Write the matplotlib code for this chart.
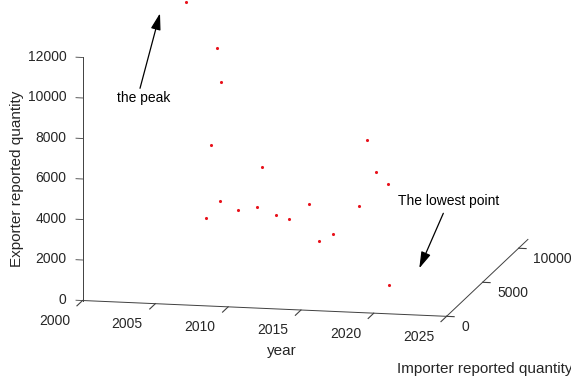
import matplotlib
matplotlib.use("Agg")
import matplotlib.pyplot as plt

years = [2002, 2003, 2004, 2005, 2006, 2007, 2008, 2009, 2010, 2011,
         2012, 2013, 2014, 2015, 2016, 2017, 2018, 2019, 2020]
importer = [10290, 12570, 11180, 7690, 5010, 4890, 5450, 6760, 4000, 4570,
            4360, 5190, 4560, 4440, 7180, 3960, 4380, 4020, 2140]
exporter = [11340, 8330, 7140, 5250, 2580, 3480, 2880, 4610, 3580, 3040,
            2940, 3430, 1830, 2280, 5990, 3880, 5450, 4990, 690]

x_lim = (2000, 2025)
y_lim = (0, 11300)
z_lim = (0, 12000)
x_ticks = [2000, 2005, 2010, 2015, 2020, 2025]
y_ticks = [0, 5000, 10000]
z_ticks = [0, 2000, 4000, 6000, 8000, 10000, 12000]

AX_COLOR = "#404040"
TXT_COLOR = "#262626"

plt.rcParams["font.family"] = ["Liberation Sans", "DejaVu Sans"]

fig = plt.figure(figsize=(5.71, 3.78), dpi=100)
ax = fig.add_axes([0.1946, 0.0938, 0.662, 1.0], projection="3d")
ax.set_proj_type("ortho")
ax.view_init(elev=11.7, azim=-77.9)
ax.set_box_aspect((372.3, 388.0, 248.2), zoom=1.521)

ax.scatter(years, importer, exporter, s=5, c="#e8121c", linewidths=0,
           depthshade=False)

# MATLAB keeps the z axis on the front-left edge; mplot3d can't, so draw it
ax.plot([x_lim[0]] * 2, [y_lim[0]] * 2, z_lim, color=AX_COLOR, lw=0.7,
        clip_on=False)
for t in z_ticks:
    ax.plot([x_lim[0], x_lim[0] - 0.45], [y_lim[0]] * 2, [t, t],
            color=AX_COLOR, lw=0.6, clip_on=False)

ax.set_xlim(*x_lim)
ax.set_ylim(*y_lim)
ax.set_zlim(*z_lim)
ax.set_xticks(x_ticks)
ax.set_yticks(y_ticks)
ax.set_zticks(z_ticks)
ax.set_xticklabels([])
ax.set_yticklabels([])
ax.set_zticklabels([])
ax.zaxis.set_ticks_position("none")
ax.zaxis.line.set_visible(False)
ax.grid(False)
for axis, f in ((ax.xaxis, 0.86), (ax.yaxis, 0.26), (ax.zaxis, 0.0)):
    axis.pane.fill = False
    axis.pane.set_edgecolor("none")
    axis.line.set_color(AX_COLOR)
    axis.line.set_linewidth(0.7)
    axis._axinfo["tick"]["inward_factor"] = f
    axis._axinfo["tick"]["outward_factor"] = 0.0
ax.tick_params(colors=AX_COLOR, width=0.6)

# tick labels placed the way MATLAB does it
for t in x_ticks:
    ax.text(t, -3900, 300, str(t), ha="center", va="center",
            fontsize=10, color=TXT_COLOR)
for t in y_ticks:
    ax.text(2026, t, -500, str(t), ha="left", va="center",
            fontsize=10, color=TXT_COLOR)
for t in z_ticks:
    ax.text(1998.9, 0, t, str(t), ha="right", va="center",
            fontsize=10, color=TXT_COLOR)

fig.text(0.4939, 0.0714, "year", ha="center", va="center",
         fontsize=11, color=TXT_COLOR)
fig.text(0.8494, 0.0238, "Importer reported quantity", ha="center",
         va="center", fontsize=11, color=TXT_COLOR)
fig.text(0.0298, 0.5265, "Exporter reported quantity", ha="center",
         va="center", rotation=90, fontsize=11, color=TXT_COLOR)

arrow = dict(arrowstyle="-|>,head_length=1.0,head_width=0.3",
             color="black", lw=0.9, shrinkA=0, shrinkB=0, mutation_scale=10)
ax.annotate("", xy=(0.2802, 0.9648), xytext=(0.2452, 0.7664),
            xycoords="figure fraction", textcoords="figure fraction",
            arrowprops=arrow)
fig.text(0.251, 0.7407, "the peak", ha="center", va="center", fontsize=10)
ax.annotate("", xy=(0.7343, 0.2902), xytext=(0.7764, 0.4357),
            xycoords="figure fraction", textcoords="figure fraction",
            arrowprops=arrow)
fig.text(0.7851, 0.4683, "The lowest point", ha="center", va="center",
         fontsize=10)

fig.savefig("out.png", dpi=100)
